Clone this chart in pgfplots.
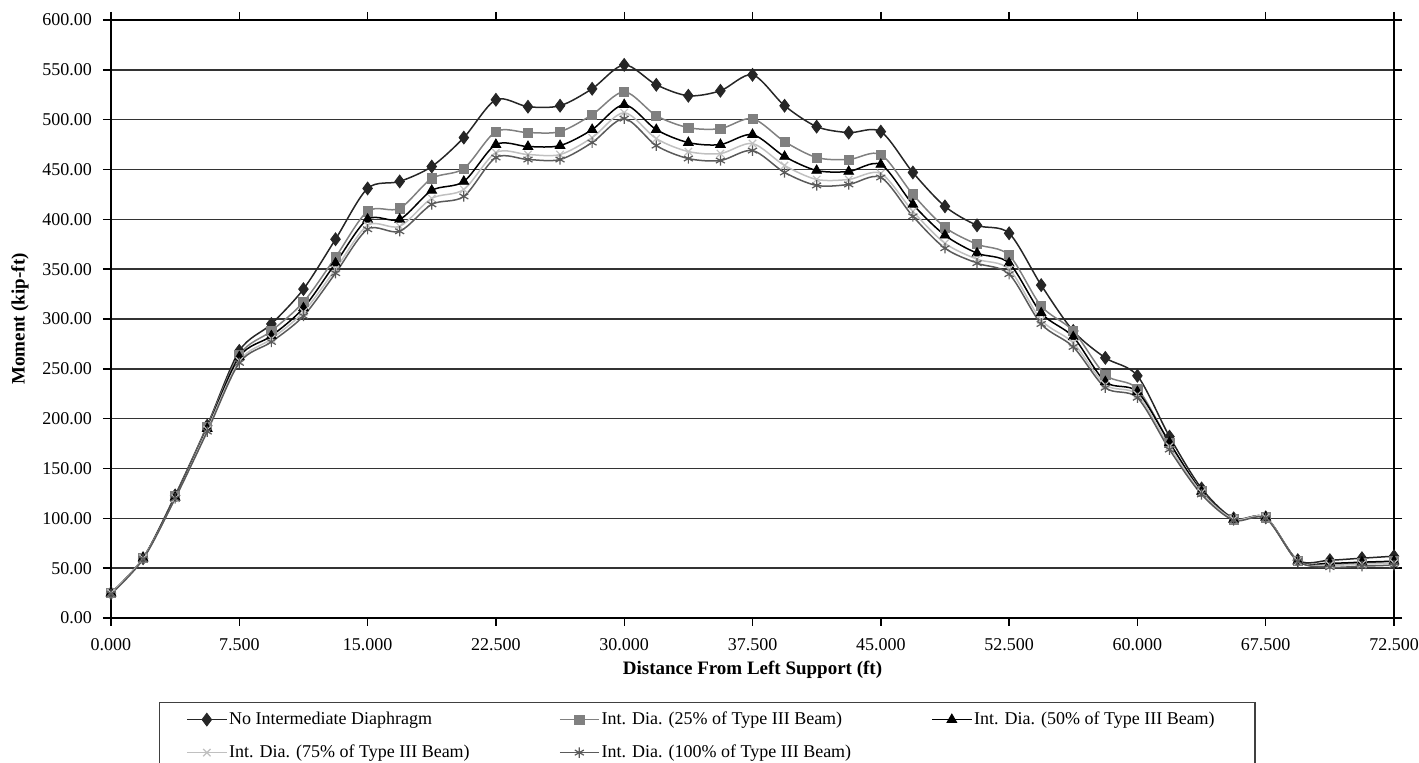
\documentclass[border=0pt]{standalone}
\usepackage{pgfplots}
\pgfplotsset{compat=1.18}
\usepackage{fontspec}
\setmainfont{Liberation Serif}

\definecolor{noDia}{HTML}{262626}
\definecolor{dia25}{HTML}{808080}
\definecolor{dia50}{HTML}{000000}
\definecolor{dia75}{HTML}{C0C0C0}
\definecolor{dia100}{HTML}{5A5A5A}

% Moment along the span; x is the station index (41 stations),
% labelled every fourth station with its distance in ft.
\pgfplotstableread{
i   none  p25  p50  p75  p100
0   25    25   25   25   24
1   60    60   60   60   59
2   123   122  121  120  120
3   193   192  190  189  187
4   268   264  262  258  256
5   295   288  283  280  277
6   330   317  311  307  303
7   380   362  356  350  346
8   431   408  400  394  390
9   438   411  400  393  388
10  453   441  429  421  415
11  482   451  438  430  423
12  520   488  475  467  462
13  513   487  473  465  460
14  514   488  474  465  460
15  531   505  490  482  477
16  555   528  515  507  501
17  535   504  490  481  474
18  524   492  477  468  461
19  529   491  475  466  459
20  545   501  485  476  469
21  514   478  463  454  447
22  493   462  449  440  434
23  487   460  448  440  435
24  488   465  455  446  442
25  447   425  415  408  403
26  413   392  384  376  371
27  394   375  366  360  356
28  386   364  356  350  345
29  334   313  306  299  295
30  288   288  282  276  272
31  261   244  237  234  231
32  243   230  227  224  221
33  182   176  176  172  169
34  130   127  127  126  124
35  100   99   99   99   98
36  101   101  101  101  100
37  58    57   57   57   57
38  58    54   55   53   51
39  60    55   56   54   52
40  62    57   57   55   53
}\moments

\begin{document}
\begin{tikzpicture}[x=1pt,y=1pt]
\path[use as bounding box] (-55.5,-72.5) rectangle (654,309);
\begin{axis}[
  at={(0,0)}, anchor=south west,
  scale only axis, width=641.5pt, height=299pt,
  xmin=0, xmax=40, ymin=0, ymax=600,
  xtick={0,4,...,40},
  xticklabels={0.000,7.500,15.000,22.500,30.000,37.500,45.000,52.500,60.000,67.500,72.500},
  ytick={0,50,...,600},
  /pgf/number format/fixed,
  /pgf/number format/fixed zerofill,
  /pgf/number format/precision=2,
  /pgf/number format/assume math mode=true,
  ticklabel style={font=\fontsize{9}{10}\selectfont},
  xticklabel style={yshift=-2.5pt},
  yticklabel style={xshift=-2pt},
  tick align=outside, major tick length=4pt,
  tick style={black, line width=0.7pt},
  axis line style={black, line width=0.8pt},
  ymajorgrids, grid style={black!80, line width=0.7pt},
  xlabel={\textbf{Distance From Left Support (ft)}},
  ylabel={\textbf{Moment (kip-ft)}},
  every axis x label/.style={at={(axis description cs:0.5,-0.087)}, anchor=center,
    font=\bfseries\fontsize{9.5}{11}\selectfont},
  every axis y label/.style={at={(axis description cs:-0.0709,0.5)}, rotate=90, anchor=center,
    font=\bfseries\fontsize{9.5}{11}\selectfont},
  legend columns=3,
  legend cell align=left,
  legend style={at={(axis description cs:0.0374,-0.1405)}, anchor=north west,
    draw=black!75, line width=0.6pt, inner xsep=13.5pt, inner ysep=3.25pt,
    font=\fontsize{9}{10}\selectfont, row sep=6pt,
    nodes={inner sep=1pt, text height=6.5pt, text depth=2pt}},
  legend image code/.code={
    \draw[mark repeat=2, mark phase=2] plot coordinates {(0pt,0pt) (9.75pt,0pt) (19.5pt,0pt)};},
  every axis plot/.append style={smooth, tension=0.5, line width=0.75pt},
]
\addplot[noDia, mark=diamond*, mark size=3.2pt, mark options={fill=noDia, draw=noDia, line width=0.4pt}]
  table[x=i, y=none] {\moments};
\addlegendentry{\makebox[164pt][l]{No Intermediate Diaphragm}}
\addplot[dia25, mark=square*, mark size=2.3pt, mark options={fill=dia25, draw=dia25, line width=0.4pt}]
  table[x=i, y=p25] {\moments};
\addlegendentry{\makebox[164pt][l]{Int. Dia. (25\% of Type III Beam)}}
\addplot[dia50, mark=triangle*, mark size=2.8pt, mark options={fill=dia50, draw=dia50, line width=0.4pt}]
  table[x=i, y=p50] {\moments};
\addlegendentry{\makebox[126pt][l]{Int. Dia. (50\% of Type III Beam)}}
\addplot[dia75, mark=x, mark size=2.6pt, mark options={draw=dia75, line width=0.6pt}]
  table[x=i, y=p75] {\moments};
\addlegendentry{\makebox[164pt][l]{Int. Dia. (75\% of Type III Beam)}}
\addplot[dia100, mark=asterisk, mark size=2.6pt, mark options={draw=dia100, line width=0.6pt}]
  table[x=i, y=p100] {\moments};
\addlegendentry{\makebox[164pt][l]{Int. Dia. (100\% of Type III Beam)}}
\end{axis}
\end{tikzpicture}
\end{document}
